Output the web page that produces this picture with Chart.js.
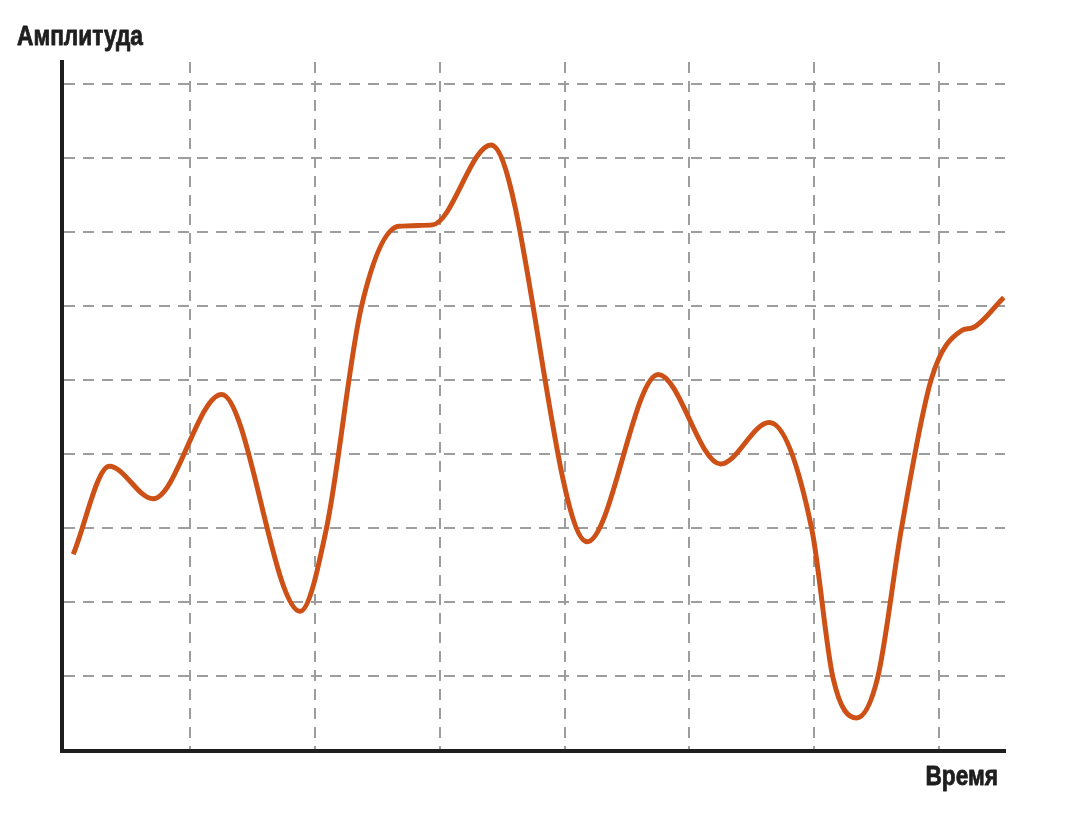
<!DOCTYPE html>
<html lang="ru">
<head>
<meta charset="utf-8">
<title>Амплитуда</title>
<script src="https://cdn.jsdelivr.net/npm/chart.js@4/dist/chart.umd.min.js"></script>
<style>
  html, body { margin: 0; padding: 0; background: #ffffff; }
  canvas { display: block; }
</style>
</head>
<body>
<canvas id="signal" width="1073" height="813"></canvas>
<script>
// points (x in grid cells, y in grid rows)
const timeValues = [0.06, 0.35, 0.70, 1.25, 1.88, 2.09, 2.37, 2.67, 2.94, 3.41, 4.18, 4.75,
  5.25, 5.64, 5.98, 6.15, 6.34, 6.51, 6.70, 6.94, 7.18, 7.27, 7.52];
const amplitudeValues = [2.65, 3.84, 3.40, 4.81, 1.88, 3.00, 5.99, 7.08, 7.10, 8.18, 2.82, 5.08,
  3.87, 4.43, 3.00, 0.99, 0.44, 0.99, 3.00, 5.02, 5.67, 5.71, 6.12];

const timeGrid = [1, 2, 3, 4, 5, 6, 7];
const amplitudeGrid = [1, 2, 3, 4, 5, 6, 7, 8, 9];
const timeRange = [-0.03, 7.53];
const amplitudeRange = [0, 9.3];

const yLabel = "Амплитуда";
const xLabel = "Время";

// no narrow bold face installed, so squeeze a regular one
const labelFont = 'bold 27px "Liberation Sans", Arial, sans-serif';
const squeeze = 0.84;

const axisLabels = {
  id: "axisLabels",
  afterDraw(chart) {
    const ctx = chart.ctx;
    ctx.save();
    ctx.font = labelFont;
    ctx.fillStyle = "#1e1e1e";
    ctx.strokeStyle = "#1e1e1e";
    ctx.lineWidth = 0.8;
    ctx.lineJoin = "round";
    ctx.textBaseline = "alphabetic";
    ctx.scale(squeeze, 1);
    ctx.textAlign = "left";
    ctx.fillText(yLabel, 17 / squeeze, 45);
    ctx.strokeText(yLabel, 17 / squeeze, 45);
    ctx.textAlign = "right";
    const xr = (chart.chartArea.right - 7) / squeeze;
    ctx.fillText(xLabel, xr, 785);
    ctx.strokeText(xLabel, xr, 785);
    ctx.restore();
  }
};

const gridStyle = { color: "#9d9d9d", lineWidth: 2, drawTicks: false };
const axisBorder = { color: "#1e1e1e", width: 4, dash: [11, 8] };

new Chart(document.getElementById("signal"), {
  type: "line",
  data: {
    datasets: [{
      data: timeValues.map((t, i) => ({ x: t, y: amplitudeValues[i] })),
      borderColor: "#cd5117",
      borderWidth: 5,
      pointRadius: 0,
      fill: false,
      cubicInterpolationMode: "monotone"
    }]
  },
  options: {
    responsive: false,
    animation: false,
    layout: { padding: { left: 62, top: 62, right: 68, bottom: 62.5 } },
    plugins: {
      legend: { display: false },
      tooltip: { enabled: false }
    },
    scales: {
      x: {
        type: "linear",
        min: timeRange[0],
        max: timeRange[1],
        afterBuildTicks: scale => { scale.ticks = timeGrid.map(v => ({ value: v })); },
        ticks: { display: false },
        grid: gridStyle,
        border: axisBorder
      },
      y: {
        min: amplitudeRange[0],
        max: amplitudeRange[1],
        afterBuildTicks: scale => { scale.ticks = amplitudeGrid.map(v => ({ value: v })); },
        ticks: { display: false },
        grid: gridStyle,
        border: axisBorder
      }
    }
  },
  plugins: [axisLabels]
});
</script>
</body>
</html>
